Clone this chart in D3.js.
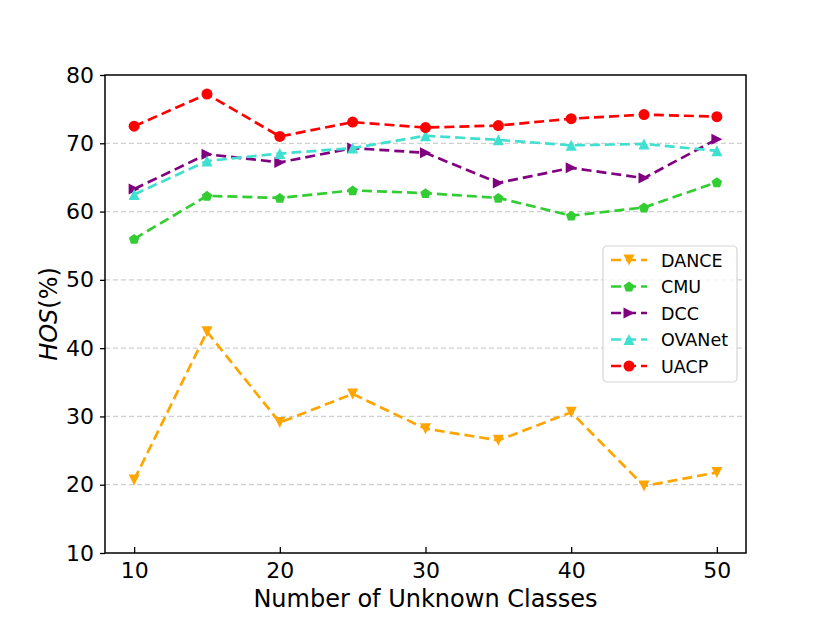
<!DOCTYPE html>
<html>
<head>
<meta charset="utf-8">
<script src="https://cdn.jsdelivr.net/npm/d3@7"></script>
<style>
  body { margin: 0; background: #fff; }
  svg { font-family: "DejaVu Sans", sans-serif; }
</style>
</head>
<body>
<div class="chart"></div>
<script>
// x positions (number of unknown classes)
const classes = [10, 15, 20, 25, 30, 35, 40, 45, 50];

// HOS values per method
const dance  = [20.7, 42.4, 29.1, 33.3, 28.2, 26.5, 30.6, 19.8, 21.8];
const cmu    = [56.0, 62.3, 62.0, 63.1, 62.7, 62.0, 59.4, 60.6, 64.3];
const dcc    = [63.3, 68.4, 67.2, 69.3, 68.6, 64.2, 66.4, 64.9, 70.6];
const ovanet = [62.5, 67.4, 68.5, 69.3, 71.1, 70.5, 69.7, 69.9, 68.9];
const uacp   = [72.5, 77.2, 71.0, 73.1, 72.3, 72.6, 73.6, 74.2, 73.9];

const xTicks = [10, 20, 30, 40, 50];
const yTicks = [10, 20, 30, 40, 50, 60, 70, 80];

const series = [
  { name: 'DANCE',  values: dance,  color: '#FFA500', marker: 'down' },
  { name: 'CMU',    values: cmu,    color: '#32CD32', marker: 'pentagon' },
  { name: 'DCC',    values: dcc,    color: '#800080', marker: 'right' },
  { name: 'OVANet', values: ovanet, color: '#40E0D0', marker: 'up' },
  { name: 'UACP',   values: uacp,   color: '#FF0000', marker: 'circle' }
];

const width = 830, height = 622;
const margin = { top: 75, right: 84, bottom: 69, left: 105 };
const innerW = width - margin.left - margin.right;
const innerH = height - margin.top - margin.bottom;

const svg = d3.select('.chart')
              .append('svg')
              .attr('width', width)
              .attr('height', height);

const g = svg.append('g')
             .attr('transform', `translate(${margin.left},${margin.top})`);

const x = d3.scaleLinear().domain([8, 52]).range([0, innerW]);
const y = d3.scaleLinear().domain([10, 80]).range([innerH, 0]);

// dashed grid on y
g.append('g')
  .selectAll('line')
  .data(yTicks.filter(d => d > 10 && d < 80))
  .enter()
  .append('line')
  .attr('x1', 0)
  .attr('x2', innerW)
  .attr('y1', d => y(d))
  .attr('y2', d => y(d))
  .attr('stroke', '#d0d0d0')
  .attr('stroke-width', 1.2)
  .attr('stroke-dasharray', '5,3');

// axes
const xAxis = g.append('g')
  .attr('transform', `translate(0,${innerH})`)
  .call(d3.axisBottom(x).tickValues(xTicks).tickSizeInner(-6).tickSizeOuter(0).tickPadding(9));
const yAxis = g.append('g')
  .call(d3.axisLeft(y).tickValues(yTicks).tickSizeInner(5).tickSizeOuter(0).tickPadding(6));

[xAxis, yAxis].forEach(ax => {
  ax.select('.domain').remove();
  ax.selectAll('line').attr('stroke', '#000').attr('stroke-width', 1.3);
  ax.selectAll('text')
    .attr('fill', '#000')
    .style('font-size', '22px')
    .style('font-family', '"DejaVu Sans", sans-serif');
});
// x tick labels sit below the inward ticks
xAxis.selectAll('text').attr('y', 9);

// frame
g.append('rect')
  .attr('width', innerW)
  .attr('height', innerH)
  .attr('fill', 'none')
  .attr('stroke', '#000')
  .attr('stroke-width', 1.5);

// marker paths
function markerPath(type, s) {
  if (type === 'circle') return d3.symbol(d3.symbolCircle, Math.PI * (s / 2) * (s / 2))();
  const h = s / 2;
  let pts;
  if (type === 'down') pts = [[-h, -h], [h, -h], [0, h]];
  if (type === 'up') pts = [[-h, h], [h, h], [0, -h]];
  if (type === 'right') pts = [[-h, -h], [-h, h], [h, 0]];
  if (type === 'pentagon') {
    pts = d3.range(5).map(i => {
      const a = -Math.PI / 2 + i * 2 * Math.PI / 5;
      return [Math.cos(a) * h, Math.sin(a) * h + 0.5];
    });
  }
  return 'M' + pts.map(p => p.join(',')).join('L') + 'Z';
}

const line = d3.line()
  .x((d, i) => x(classes[i]))
  .y(d => y(d));

series.forEach(s => {
  g.append('path')
    .datum(s.values)
    .attr('d', line)
    .attr('fill', 'none')
    .attr('stroke', s.color)
    .attr('stroke-width', 2.7)
    .attr('stroke-dasharray', '10,5');

  g.selectAll('.m-' + s.name)
    .data(s.values)
    .enter()
    .append('path')
    .attr('class', 'm-' + s.name)
    .attr('transform', (d, i) => `translate(${x(classes[i])},${y(d)})`)
    .attr('d', markerPath(s.marker, 11))
    .attr('fill', s.color);
});

// axis labels
svg.append('text')
  .attr('x', margin.left + innerW / 2)
  .attr('y', 607)
  .attr('text-anchor', 'middle')
  .style('font-size', '24px')
  .text('Number of Unknown Classes');

const yl = svg.append('text')
  .attr('transform', `translate(57,${margin.top + innerH / 2}) rotate(-90)`)
  .attr('text-anchor', 'middle')
  .style('font-size', '24px');
yl.append('tspan').style('font-style', 'italic').text('HOS');
yl.append('tspan').text('(%)');

// legend
const legend = svg.append('g').attr('transform', 'translate(603,246)');
legend.append('rect')
  .attr('width', 134)
  .attr('height', 136)
  .attr('rx', 4)
  .attr('fill', 'rgba(255,255,255,0.8)')
  .attr('stroke', '#d6d6d6')
  .attr('stroke-width', 1.2);

series.forEach((s, i) => {
  const row = legend.append('g').attr('transform', `translate(0,${14 + i * 26.5})`);
  row.append('line')
    .attr('x1', 8).attr('x2', 44)
    .attr('stroke', s.color)
    .attr('stroke-width', 2.7)
    .attr('stroke-dasharray', '10,5');
  row.append('path')
    .attr('transform', 'translate(26,0)')
    .attr('d', markerPath(s.marker, 11))
    .attr('fill', s.color);
  row.append('text')
    .attr('x', 58)
    .attr('y', 6.5)
    .style('font-size', '17.5px')
    .text(s.name);
});
</script>
</body>
</html>
